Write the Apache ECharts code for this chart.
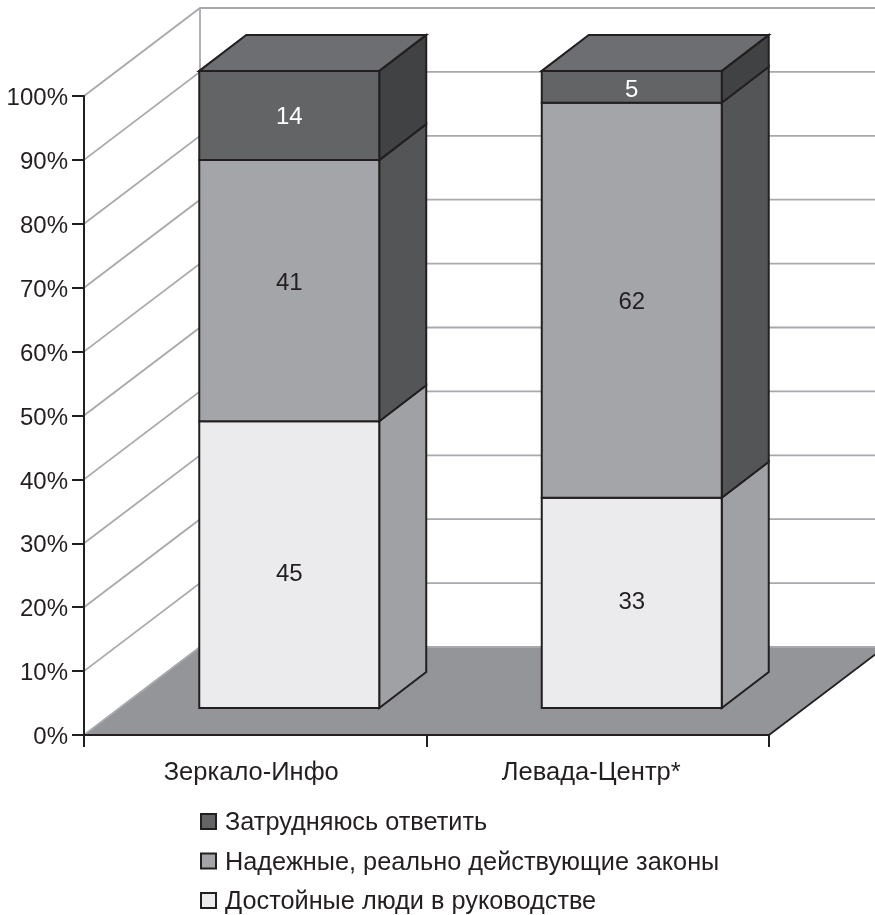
<!DOCTYPE html>
<html>
<head>
<meta charset="utf-8">
<style>html,body{margin:0;padding:0;background:#fff}#c{width:875px;height:915px}</style>
<script src="https://cdn.jsdelivr.net/npm/echarts@6/dist/echarts.min.js"></script>
</head>
<body>
<div id="c"></div>
<script>
const categories = ['Зеркало-Инфо', 'Левада-Центр*'];
const valueTicks = [0, 10, 20, 30, 40, 50, 60, 70, 80, 90, 100];
const nameHard = 'Затрудняюсь ответить';
const nameLaws = 'Надежные, реально действующие законы';
const namePeople = 'Достойные люди в руководстве';
const valuesPeople = [45, 33];
const valuesLaws = [41, 62];
const valuesHard = [14, 5];

const INK = '#231f20', WALL = '#a7a9ac', FLOOR = '#939598';
const FONT = '"Liberation Sans", Arial, sans-serif';
const WALL_DX = 116, WALL_DY = -88;     // projection of the chart's full depth
const BAR_DX = 34, BAR_DY = -27;        // front of the bars within the depth
const SIDE_DX = 47, SIDE_DY = -36;      // depth of one bar
const BAR_WIDTH = 0.5255, BAR_SCALE = 0.997;
const LABEL_NUDGE = [[10, -1], [-7, 2], [2, 4]]; // level, category: label offset from face centre

function wallItem(params, api) {
  const cs = params.coordSys;
  const right = cs.x + cs.width;
  const children = [];
  const y0 = api.coord([0, 0])[1];
  children.push({
    type: 'polygon',
    shape: { points: [[cs.x, y0], [cs.x + WALL_DX, y0 + WALL_DY], [right + WALL_DX, y0 + WALL_DY], [right, y0]] },
    style: { fill: FLOOR }
  });
  children.push({
    type: 'line',
    shape: { x1: cs.x + WALL_DX, y1: api.coord([0, 100])[1] + WALL_DY, x2: cs.x + WALL_DX, y2: y0 + WALL_DY },
    style: { stroke: WALL, lineWidth: 1.8 }
  });
  valueTicks.forEach(function (t) {
    const y = api.coord([0, t])[1];
    children.push({
      type: 'polyline',
      shape: { points: [[cs.x, y], [cs.x + WALL_DX, y + WALL_DY], [right + WALL_DX, y + WALL_DY]] },
      style: { stroke: WALL, lineWidth: 1.8, fill: null }
    });
  });
  children.push({
    type: 'line',
    shape: { x1: right, y1: y0, x2: right + WALL_DX, y2: y0 + WALL_DY },
    style: { stroke: INK, lineWidth: 1.8 }
  });
  return { type: 'group', children: children };
}

function segmentRenderer(level, front, side, top, labelColor) {
  return function (params, api) {
    const cat = api.value(0), lo = api.value(1), hi = api.value(2), val = api.value(3), isTop = api.value(4);
    const w = api.size([1, 0])[0] * BAR_WIDTH;
    const pLo = api.coord([cat, lo * BAR_SCALE]), pHi = api.coord([cat, hi * BAR_SCALE]);
    const x = pLo[0] + BAR_DX - w / 2, x2 = x + w, yLo = pLo[1] + BAR_DY, yHi = pHi[1] + BAR_DY;
    const line = { stroke: INK, lineWidth: 2, lineJoin: 'miter' };
    const children = [
      { type: 'polygon', shape: { points: [[x2, yLo], [x2 + SIDE_DX, yLo + SIDE_DY], [x2 + SIDE_DX, yHi + SIDE_DY], [x2, yHi]] },
        style: Object.assign({ fill: side }, line) },
      { type: 'rect', shape: { x: x, y: yHi, width: w, height: yLo - yHi },
        style: Object.assign({ fill: front }, line) }
    ];
    if (isTop) {
      children.push({ type: 'polygon', shape: { points: [[x, yHi], [x + SIDE_DX, yHi + SIDE_DY], [x2 + SIDE_DX, yHi + SIDE_DY], [x2, yHi]] },
        style: Object.assign({ fill: top }, line) });
    }
    children.push({ type: 'text', style: { x: (x + x2) / 2, y: (yLo + yHi) / 2 + LABEL_NUDGE[level][cat], text: String(val), fill: labelColor,
      font: '24px ' + FONT, align: 'center', verticalAlign: 'middle' } });
    return { type: 'group', children: children };
  };
}

const stackOrder = [valuesPeople, valuesLaws, valuesHard];
function rows(level) {
  return categories.map(function (c, i) {
    let lo = 0;
    for (let k = 0; k < level; k++) lo += stackOrder[k][i];
    return [i, lo, lo + stackOrder[level][i], stackOrder[level][i], level === stackOrder.length - 1 ? 1 : 0];
  });
}

const chart = echarts.init(document.getElementById('c'), null, { renderer: 'canvas' });
const enc = { x: 0, y: 2 };
const axisStyle = { show: true, lineStyle: { color: INK, width: 2 } };
chart.setOption({
  animation: false,
  backgroundColor: '#ffffff',
  grid: { left: 84, top: 96, width: 685, height: 639, containLabel: false },
  xAxis: {
    type: 'category', data: categories, z: 2,
    axisLine: axisStyle,
    axisTick: { show: true, length: 12, lineStyle: { color: INK, width: 2 } },
    axisLabel: {
      color: INK, fontFamily: FONT, fontSize: 25.5, margin: 25,
      formatter: function (v, i) { return '{c' + i + '|' + v + '}'; },
      rich: {
        c0: { fontFamily: FONT, fontSize: 25.5, color: INK, padding: [0, 8, 0, 0] },
        c1: { fontFamily: FONT, fontSize: 25.5, color: INK, padding: [0, 13, 0, 0] }
      }
    }
  },
  yAxis: {
    type: 'value', min: 0, max: 100, interval: 10, z: 2,
    splitLine: { show: false },
    axisLine: axisStyle,
    axisTick: { show: true, length: 12, lineStyle: { color: INK, width: 2 } },
    axisLabel: {
      color: INK, fontFamily: FONT, fontSize: 24, margin: 16,
      formatter: function (v) { return '{t|' + v + '%}'; },
      rich: { t: { fontFamily: FONT, fontSize: 24, color: INK, padding: [5, 0, 0, 0] } }
    }
  },
  legend: {
    orient: 'vertical', left: 200, top: 811, itemWidth: 15, itemHeight: 15, itemGap: 14.5,
    data: [nameHard, nameLaws, namePeople],
    formatter: function (n) { return '{t|' + n + '}'; },
    textStyle: {
      color: INK, fontFamily: FONT, fontSize: 25.3, padding: [0, 0, 0, 4],
      rich: { t: { fontFamily: FONT, fontSize: 25.3, color: INK, padding: [4, 0, 0, 0] } }
    },
    selectedMode: false, padding: 0,
    icon: 'rect'
  },
  series: [
    { type: 'custom', name: 'wall', silent: true, z: 1, clip: false, data: [[0, 0]], encode: { x: 0, y: 1 }, renderItem: wallItem },
    { type: 'custom', name: namePeople, z: 3, clip: false, data: rows(0), encode: enc,
      itemStyle: { color: '#ebebed', borderColor: INK, borderWidth: 2 },
      renderItem: segmentRenderer(0, '#ebebed', '#a0a1a4', '#ebebed', INK) },
    { type: 'custom', name: nameLaws, z: 3, clip: false, data: rows(1), encode: enc,
      itemStyle: { color: '#a4a5a8', borderColor: INK, borderWidth: 2 },
      renderItem: segmentRenderer(1, '#a4a5a8', '#545557', '#a4a5a8', INK) },
    { type: 'custom', name: nameHard, z: 3, clip: false, data: rows(2), encode: enc,
      itemStyle: { color: '#636466', borderColor: INK, borderWidth: 2 },
      renderItem: segmentRenderer(2, '#636466', '#414244', '#6d6e71', '#ffffff') }
  ]
});
</script>
</body>
</html>
